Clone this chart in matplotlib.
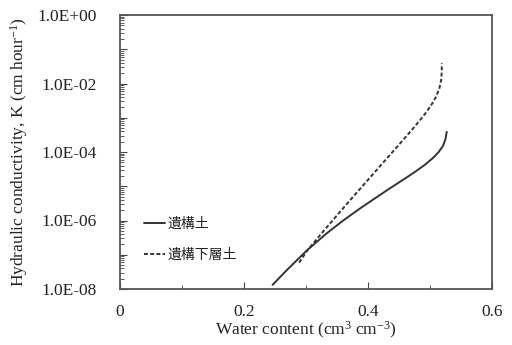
import matplotlib
matplotlib.use("Agg")
import matplotlib.pyplot as plt
import numpy as np
from matplotlib.ticker import FixedLocator, FixedFormatter, LogLocator, NullFormatter, MultipleLocator

# Data (water content, log10 K)
theta_a = [0.246, 0.269, 0.301, 0.333, 0.360, 0.387, 0.409, 0.432, 0.455, 0.475, 0.492, 0.505, 0.514, 0.521, 0.525, 0.527]
logk_a = [-7.88, -7.45, -6.88, -6.38, -6.00, -5.65, -5.38, -5.10, -4.83, -4.59, -4.37, -4.17, -4.00, -3.82, -3.62, -3.41]
theta_b = [0.289, 0.301, 0.323, 0.350, 0.370, 0.387, 0.405, 0.422, 0.441, 0.456, 0.470, 0.483, 0.494, 0.503, 0.510, 0.515, 0.518, 0.519, 0.519]
logk_b = [-7.23, -6.90, -6.42, -5.85, -5.43, -5.08, -4.71, -4.36, -3.97, -3.66, -3.37, -3.09, -2.84, -2.60, -2.38, -2.15, -1.90, -1.65, -1.41]
labels = ["遺構土", "遺構下層土"]
ytick_vals = [10.0**k for k in range(-8, 1)]
ytick_labels = ["1.0E-08", "", "1.0E-06", "", "1.0E-04", "", "1.0E-02", "", "1.0E+00"]
xtick_vals = [0, 0.2, 0.4, 0.6]
xtick_labels = ["0", "0.2", "0.4", "0.6"]

plt.rcParams['font.family'] = ['Liberation Serif', 'Noto Sans CJK JP']
plt.rcParams['mathtext.fontset'] = 'custom'
plt.rcParams['mathtext.rm'] = 'Liberation Serif'
plt.rcParams['mathtext.it'] = 'Liberation Serif:italic'

fig = plt.figure(figsize=(5.12, 3.45), dpi=100)
ax = fig.add_axes([120/512, 1-289/345, 372/512, 274/345])

col = '#333333'
ax.plot(theta_a, 10**np.array(logk_a), color=col, lw=1.4, ls='-', label=labels[0],
        solid_joinstyle='round', solid_capstyle='round')
ax.plot(theta_b, 10**np.array(logk_b), color=col, lw=1.4, ls=(0, (2.0, 1.2)), label=labels[1],
        dash_joinstyle='round')

ax.set_yscale('log')
ax.set_xlim(0, 0.6)
ax.set_ylim(1e-8, 1e0)

ax.yaxis.set_major_locator(FixedLocator(ytick_vals))
ax.yaxis.set_major_formatter(FixedFormatter(ytick_labels))
ax.yaxis.set_minor_locator(LogLocator(base=10, subs=np.arange(2, 10), numticks=20))
ax.yaxis.set_minor_formatter(NullFormatter())
ax.set_xticks(xtick_vals)
ax.set_xticklabels(xtick_labels)
ax.xaxis.set_minor_locator(MultipleLocator(0.1))

ax.tick_params(which='major', direction='in', length=5, width=0.8, colors='#444444', labelcolor='#222222', labelsize=12.5)
ax.tick_params(which='minor', direction='in', length=3, width=0.6, colors='#444444')
ax.tick_params(axis='y', which='major', pad=17)
ax.tick_params(axis='x', which='major', pad=11)
for s in ax.spines.values():
    s.set_color('#555555')
    s.set_linewidth(1.3)

ax.set_xlabel("Water content (cm$^{3}$ cm$^{\\mathrm{-3}}$)", fontsize=12.5, color='#222222', labelpad=0)
ax.set_ylabel("Hydraulic conductivity, K (cm hour$^{\\mathrm{-1}}$)", fontsize=12.5, color='#222222', labelpad=5)

leg = ax.legend(loc='lower left', bbox_to_anchor=(0.05, 0.08), frameon=False,
                prop={'family': 'Noto Sans CJK JP', 'size': 10},
                handlelength=1.5, handletextpad=0.2, labelspacing=1.2, borderaxespad=0)
for t in leg.get_texts():
    t.set_color('#222222')

fig.savefig("out.png", dpi=100)
